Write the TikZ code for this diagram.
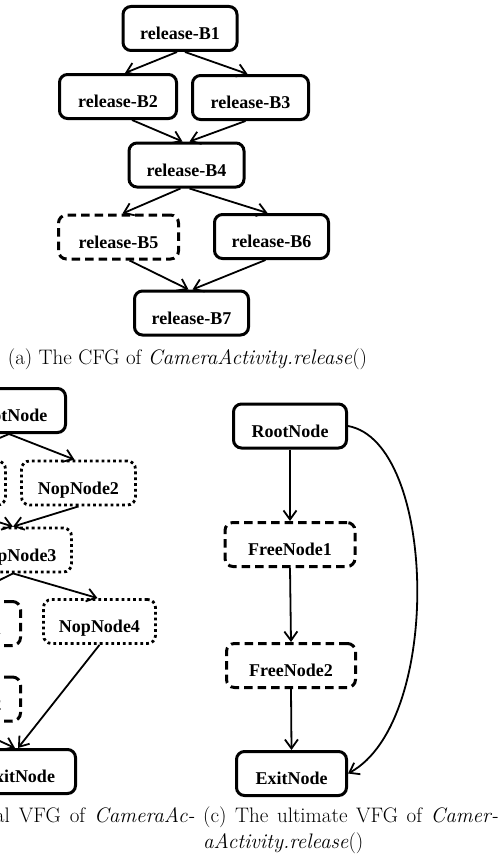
\documentclass[tikz,border=0pt]{standalone}
\usepackage{fontspec}
\usetikzlibrary{arrows.meta,calc}
% bold serif for the block labels; captions stay in the roman main face
\newfontfamily\boxfont{Liberation Serif}

\begin{document}
\begin{tikzpicture}[x=1pt,y=-1pt,
  blk/.style={draw, line width=3pt, rounded corners=8pt,
    font=\boxfont\bfseries\fontsize{18}{20}\selectfont,
    text height=22pt, text depth=0pt, inner ysep=11pt, inner xsep=0pt,
    minimum height=44pt},
  dashblk/.style={blk, dash pattern=on 8.5pt off 5pt},
  dotblk/.style={blk, line width=2.8pt, dash pattern=on 2.8pt off 3pt},
  arr/.style={line width=1.8pt, -{Straight Barb[length=9pt,width=13pt]}},
  captxt/.style={font=\rmfamily\fontsize{21}{25}\selectfont, inner sep=0pt}
]
\useasboundingbox (0,0) rectangle (501,859);
\begin{scope}
\clip (0,0) rectangle (501,859);

% ---------- (a) control flow graph ----------
\node[blk, minimum width=114pt] (b1) at (180,28.5) {release-B1};
\node[blk, minimum width=117pt] (b2) at (118,96.5) {release-B2};
\node[blk, minimum width=116pt] (b3) at (250.5,97.5) {release-B3};
\node[blk, minimum width=115pt] (b4) at (186.5,165) {release-B4};
\node[dashblk, minimum width=120pt] (b5) at (118.5,237) {release-B5};
\node[blk, minimum width=114pt] (b6) at (271.5,236.5) {release-B6};
\node[blk, minimum width=114pt] (b7) at (191.5,313) {release-B7};

\draw[arr] ($(b1.south)+(-3,0)$) -- ($(b2.north)+(7,0)$);
\draw[arr] ($(b1.south)+(5,0)$) -- ($(b3.north)+(-3,0)$);
\draw[arr] ($(b2.south)+(14,0)$) -- ($(b4.north)+(-4,0)$);
\draw[arr] ($(b3.south)+(-5,0)$) -- ($(b4.north)+(3,0)$);
\draw[arr] ($(b4.south)+(-6,0)$) -- ($(b5.north)+(4,0)$);
\draw[arr] ($(b4.south)+(3,0)$) -- ($(b6.north)+(-4,0)$);
\draw[arr] ($(b5.south)+(11,0)$) -- ($(b7.north)+(-3,0)$);
\draw[arr] ($(b6.south)+(-6,0)$) -- ($(b7.north)+(1,0)$);

\node[captxt, anchor=base] (capa) at (187.5,364)
  {(a) The CFG of \textit{CameraActivity.release}()};

% ---------- (b) initial value flow graph ----------
\node[blk, minimum width=113pt] (rb) at (9,410.5) {RootNode};
\node[dotblk, minimum width=114pt] (n1) at (-51.5,483) {NopNode1};
\node[dotblk, minimum width=114pt] (n2) at (78.5,483) {NopNode2};
\node[dotblk, minimum width=111pt] (n3) at (16,550) {NopNode3};
\node[dashblk, minimum width=122pt] (f1b) at (-40.5,623.5) {FreeNode1};
\node[dotblk, minimum width=112pt] (n4) at (99.5,621.5) {NopNode4};
\node[dashblk, minimum width=122pt] (f2b) at (-40.5,699) {FreeNode2};
\node[blk, minimum width=113pt] (xb) at (19,771.5) {ExitNode};

\draw[arr] (rb.south) -- (n1.north);
\draw[arr] (rb.south) -- ($(n2.north)+(-4,0)$);
\draw[arr] (n1.south) -- ($(n3.north)+(-3,0)$);
\draw[arr] (n2.south) -- ($(n3.north)+(-3,0)$);
\draw[arr] ($(n3.south)+(-3,0)$) -- (f1b.north);
\draw[arr] ($(n3.south)+(-3,0)$) -- ($(n4.north)+(-2,0)$);
\draw[arr] (f1b.south) -- (f2b.north);
\draw[arr] (n4.south) -- ($(xb.north)+(-1,0)$);
\draw[arr] (f2b.south) -- ($(xb.north)+(-4,0)$);

\node[captxt, anchor=base east] (capb) at (195,822)
  {\spaceskip=9pt\relax(b) The initial VFG of \textit{CameraAc-}};

% ---------- (c) ultimate value flow graph ----------
\node[blk, minimum width=113pt] (rc) at (290,426) {RootNode};
\node[dashblk, minimum width=130pt] (f1c) at (290,544.5) {FreeNode1};
\node[dashblk, minimum width=129pt] (f2c) at (291,665.5) {FreeNode2};
\node[blk, minimum width=110pt] (xc) at (291.5,773.5) {ExitNode};

\draw[arr] (rc.south) -- (f1c.north);
\draw[arr] (f1c.south) -- (f2c.north);
\draw[arr] (f2c.south) -- (xc.north);
\draw[arr] (rc.east) .. controls (437,442) and (443,722) .. (xc.east);

\node[captxt, anchor=base west] (capc1) at (203,822)
  {\makebox[295pt][s]{(c) The ultimate VFG of \textit{Camer-}}};
\node[captxt, anchor=base west] (capc2) at (203,848)
  {\textit{aActivity.release}()};
\end{scope}
\end{tikzpicture}
\end{document}
